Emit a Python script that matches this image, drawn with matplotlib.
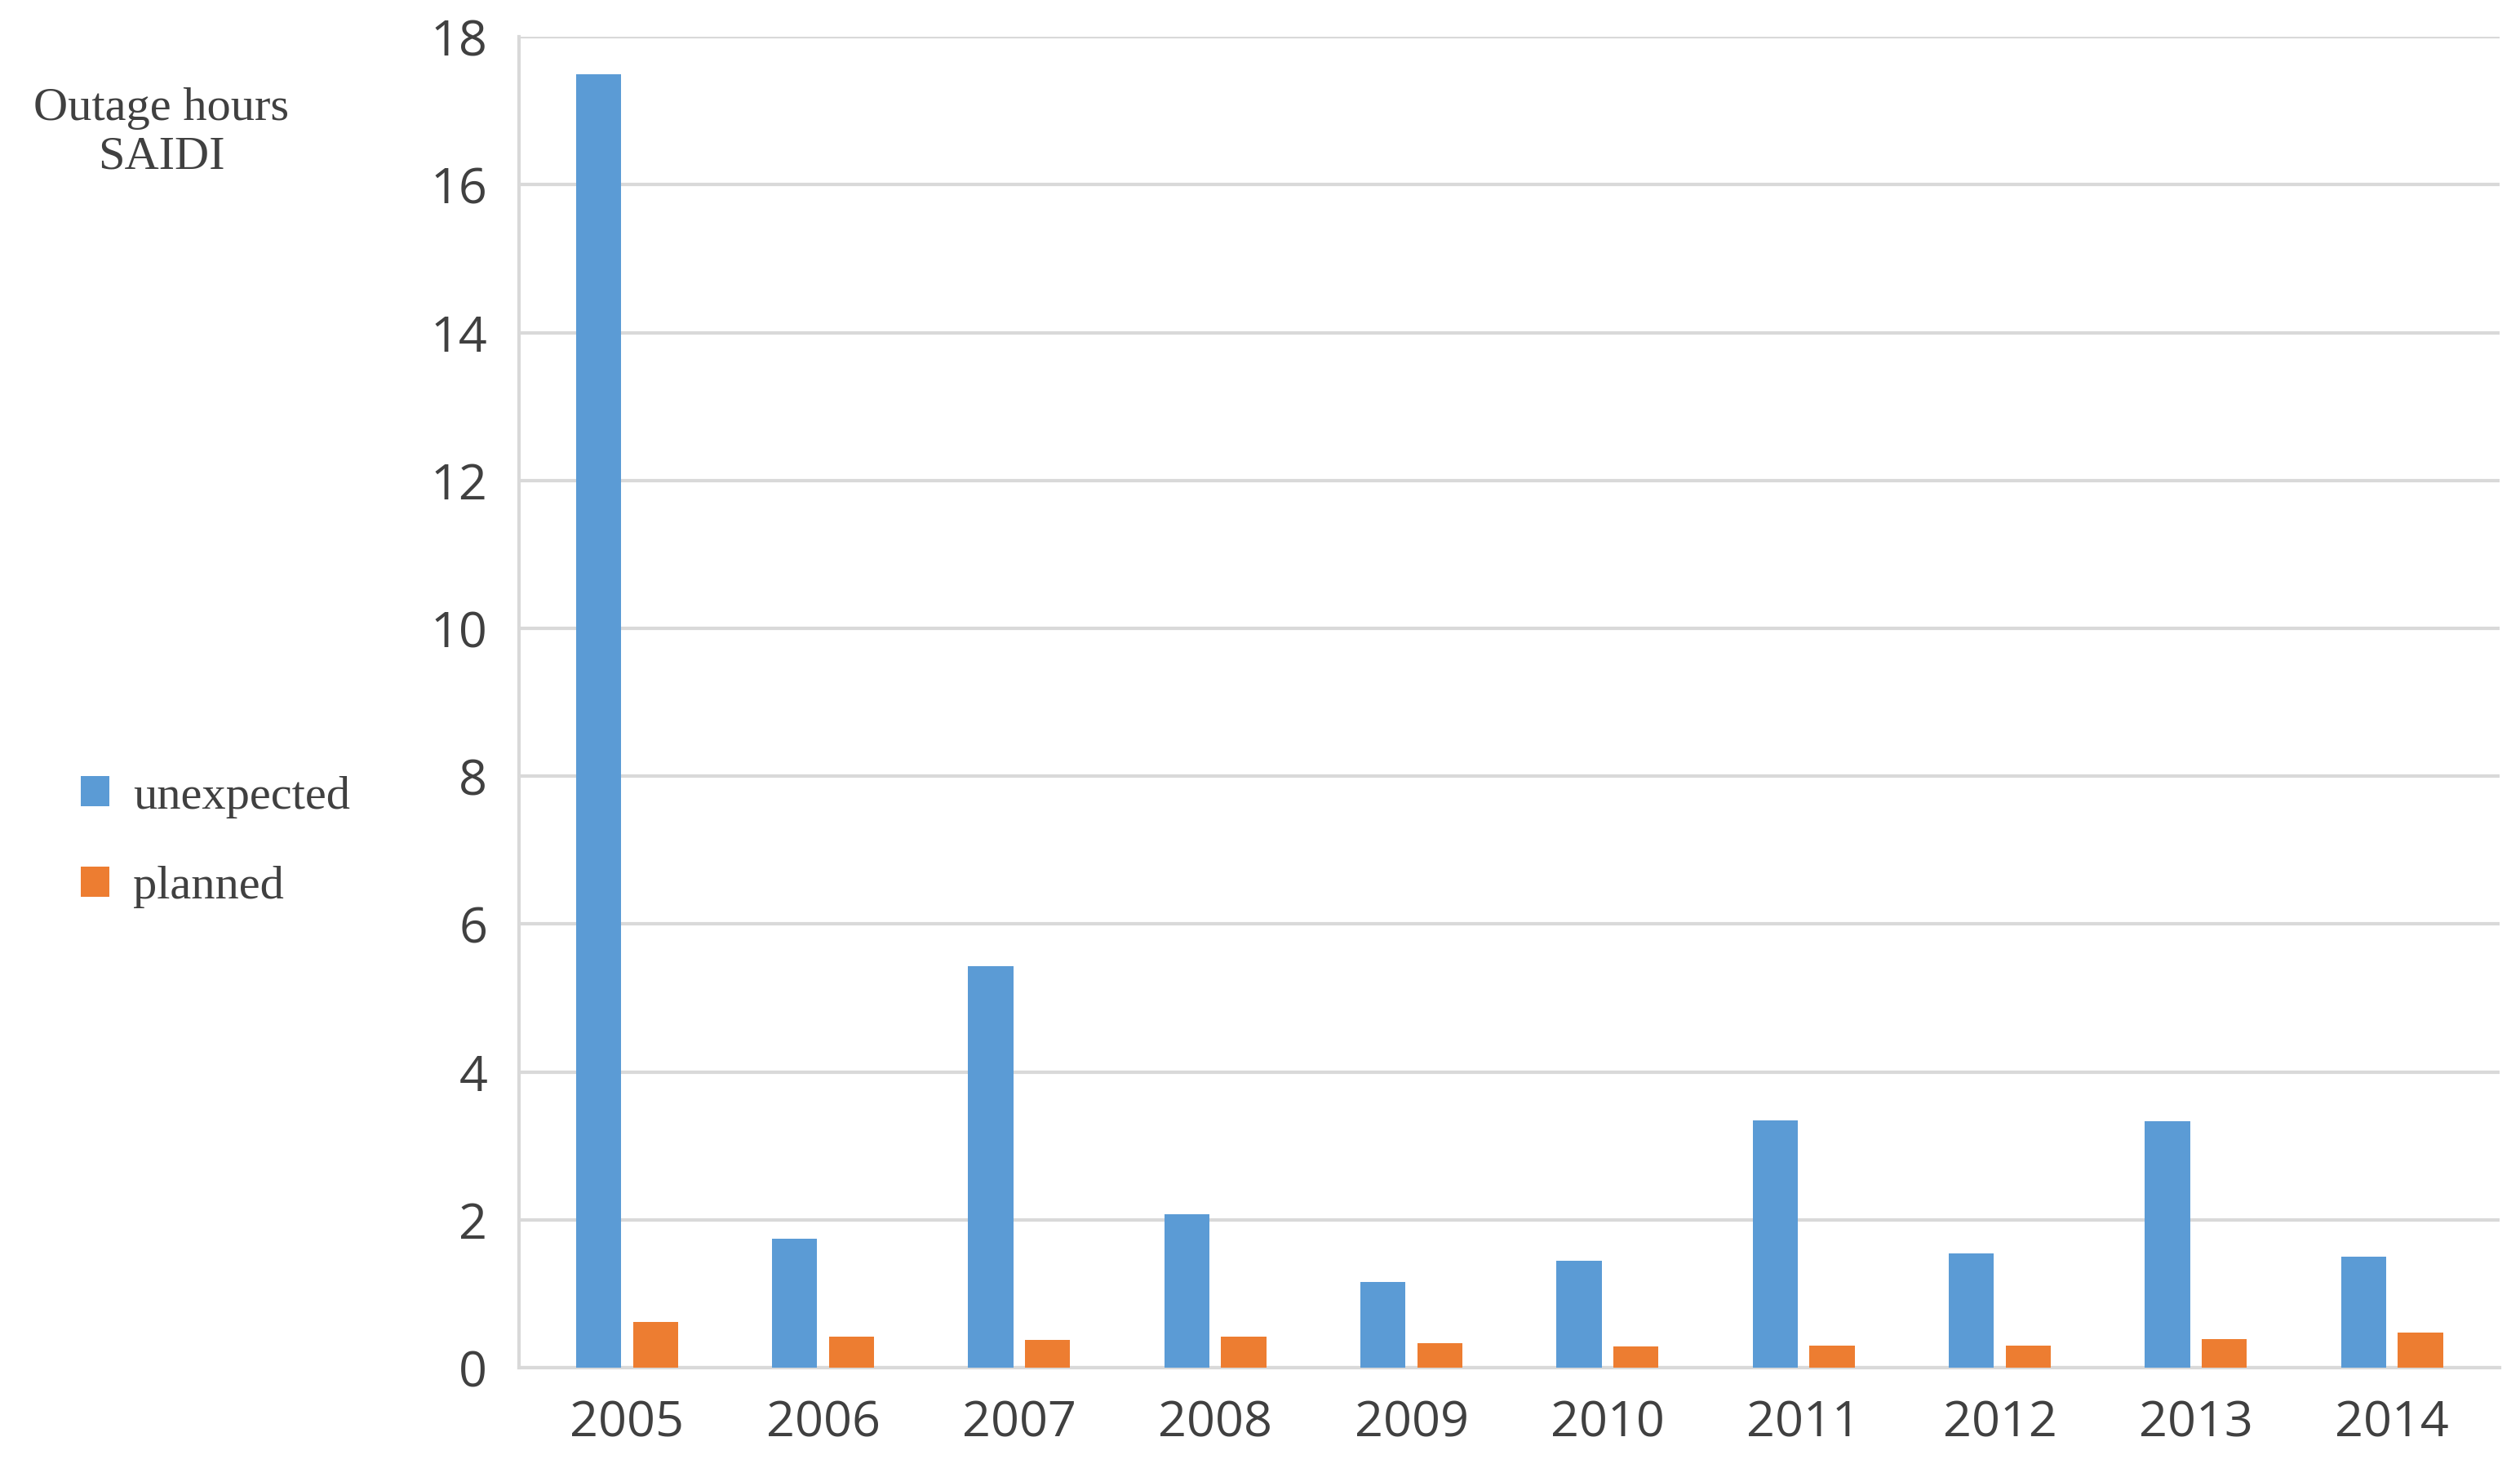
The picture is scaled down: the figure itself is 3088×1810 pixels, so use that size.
import matplotlib
matplotlib.use("Agg")
import matplotlib.pyplot as plt
import numpy as np

years = ["2005", "2006", "2007", "2008", "2009", "2010", "2011", "2012", "2013", "2014"]
unexpected = [17.5, 1.75, 5.43, 2.08, 1.16, 1.45, 3.35, 1.55, 3.33, 1.5]
planned = [0.62, 0.42, 0.38, 0.42, 0.33, 0.29, 0.30, 0.30, 0.39, 0.48]

fig = plt.figure(figsize=(15.44, 9.05), dpi=200)
ax = fig.add_axes([0.206, 0.074, 0.786, 0.901])

x = np.arange(len(years))
w = 0.23
b1 = ax.bar(x - 0.145, unexpected, w, color="#5B9BD5", zorder=3)
b2 = ax.bar(x + 0.145, planned, w, color="#ED7D31", zorder=3)

ax.set_ylim(0, 18)
ax.set_yticks(range(0, 19, 2))
ax.set_xlim(-0.55, len(years) - 0.45)
ax.set_xticks(x)
ax.set_xticklabels(years)
ax.yaxis.grid(True, color="#D9D9D9", linewidth=1.5, zorder=0)
ax.tick_params(length=0, labelsize=22, colors="#404040", pad=14)
for lab in ax.get_xticklabels() + ax.get_yticklabels():
    lab.set_family("Open Sans")
for s in ["top", "right"]:
    ax.spines[s].set_visible(False)
for s in ["left", "bottom"]:
    ax.spines[s].set_color("#D9D9D9")
    ax.spines[s].set_linewidth(1.5)

fig.text(0.064, 0.91, "Outage hours\nSAIDI", ha="center", va="center",
         fontsize=21, family="Liberation Serif", color="#404040", linespacing=1.2)
fig.legend([b1, b2], ["unexpected", "planned"], loc="center left",
           bbox_to_anchor=(0.015, 0.43), frameon=False,
           prop={"family": "Liberation Serif", "size": 21},
           handlelength=0.6, handleheight=0.6, handletextpad=0.5, labelspacing=1.0,
           labelcolor="#404040")

plt.savefig("out.png", dpi=200)
